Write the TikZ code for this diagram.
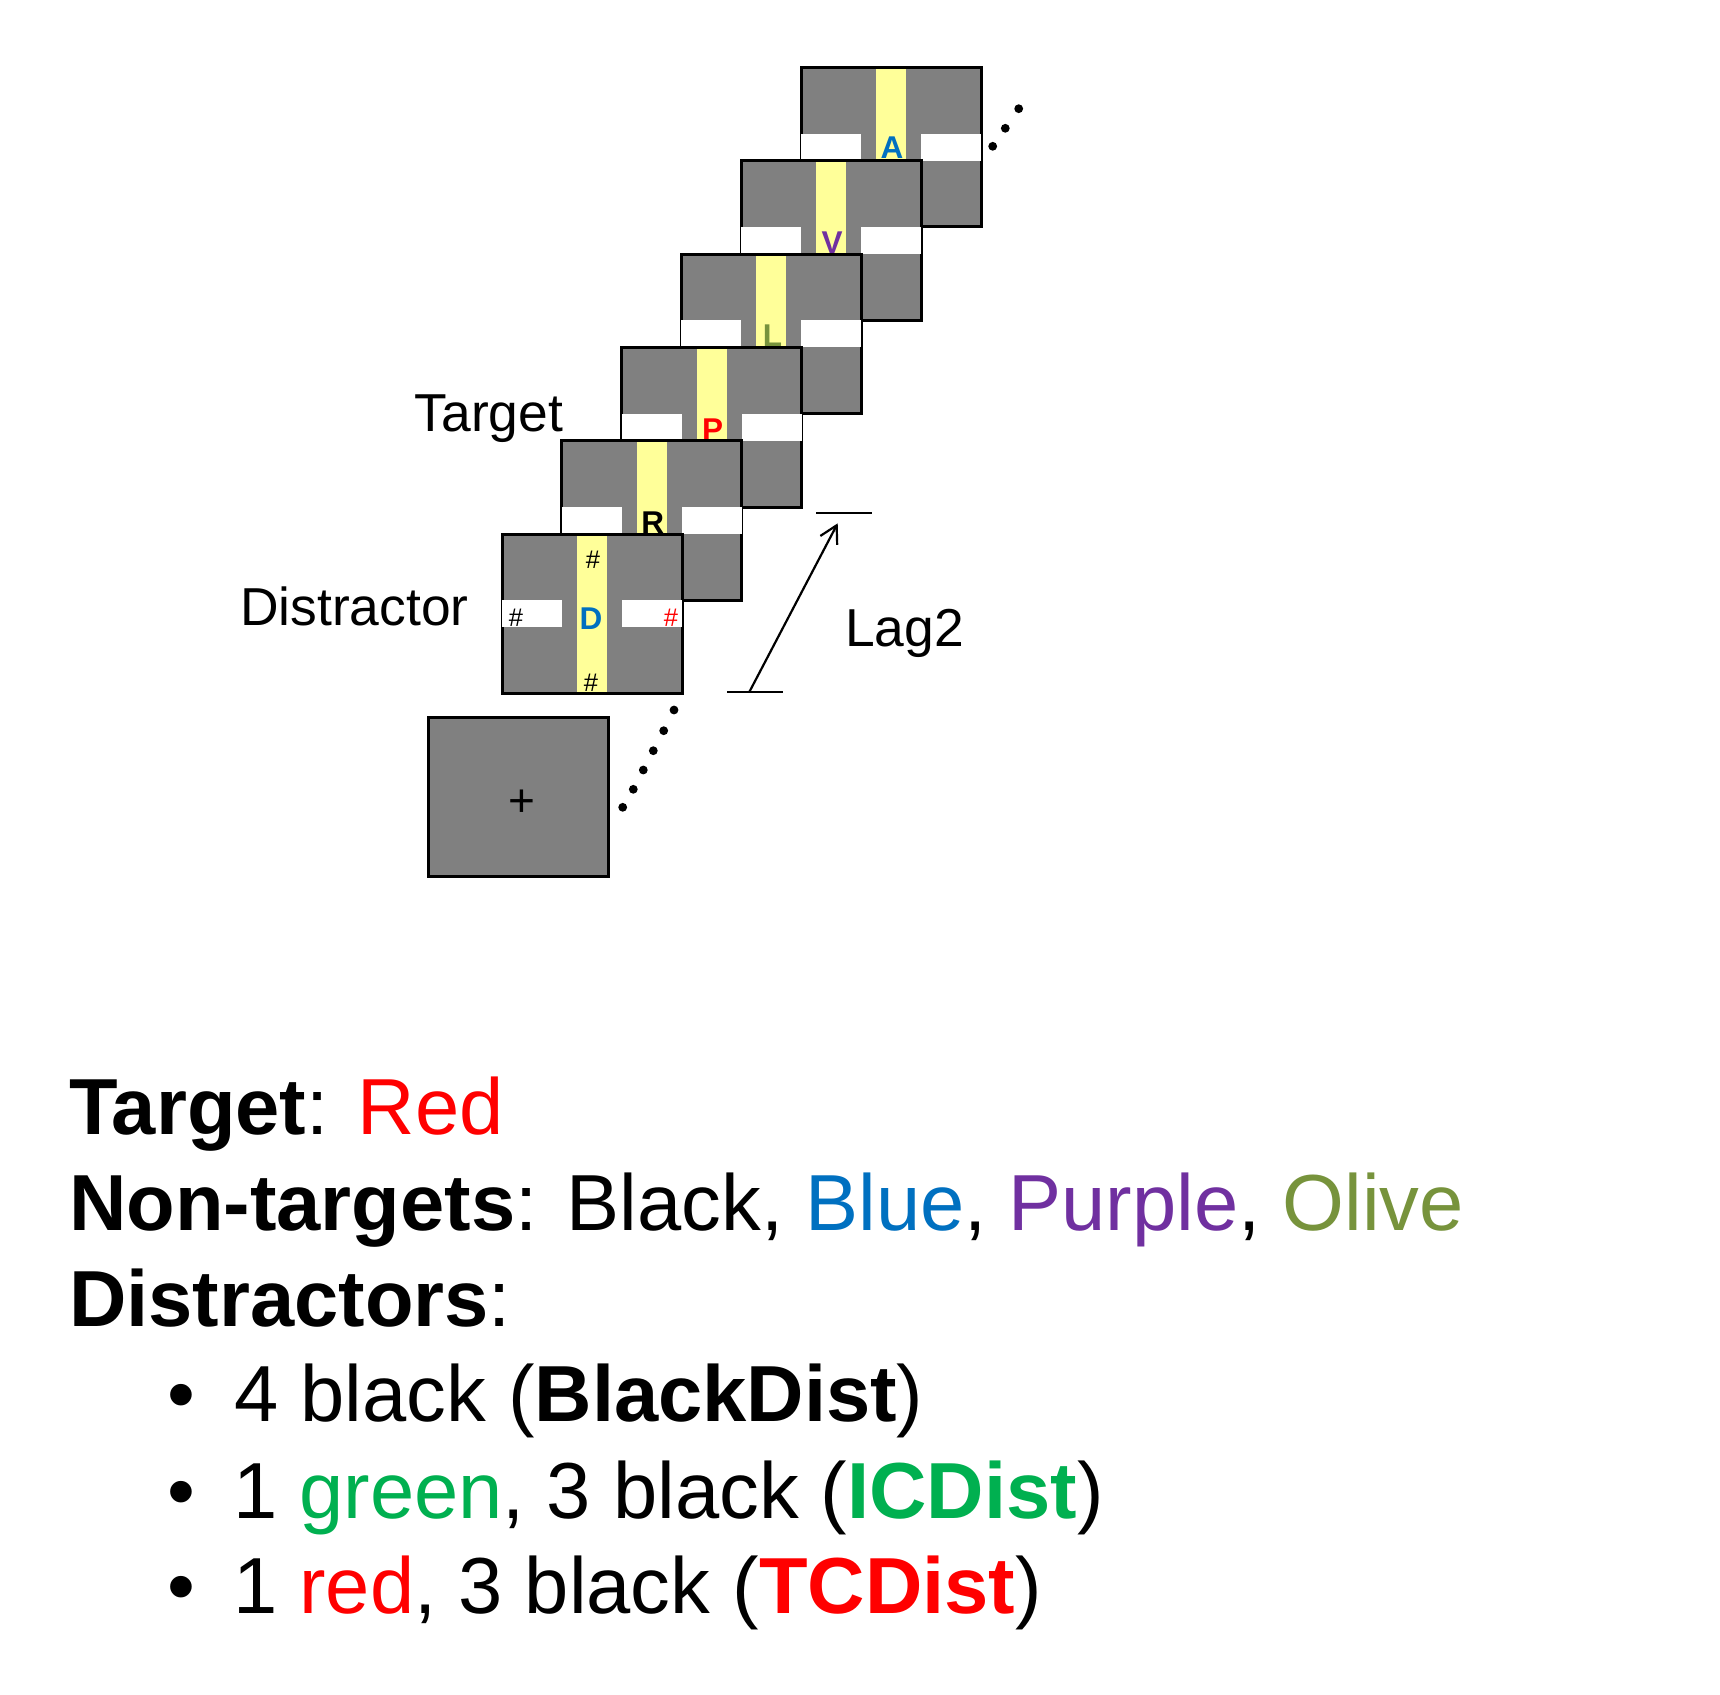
\documentclass[tikz,border=0pt]{standalone}
\usepackage{fontspec}
\setmainfont{Liberation Sans}
\usetikzlibrary{arrows.meta}
\definecolor{fgray}{RGB}{128,128,128}
\definecolor{fyel}{RGB}{255,255,153}
\definecolor{cblue}{RGB}{0,112,192}
\definecolor{cpurp}{RGB}{112,48,160}
\definecolor{colive}{RGB}{119,147,60}
\definecolor{cgreen}{RGB}{0,176,80}
\definecolor{cred}{RGB}{255,0,0}
\newcommand\bigtxt{\fontsize{79.5bp}{96bp}\selectfont}
\newcommand\labtxt{\fontsize{53.4bp}{60bp}\selectfont}
\newcommand\lettxt{\bfseries\fontsize{31.5bp}{36bp}\selectfont}
\newcommand\hashtxt{\fontsize{25.5bp}{30bp}\selectfont}
\tikzset{
  frameline/.style={draw=black, line width=3bp},
  letter/.style={anchor=base, inner sep=0pt, font=\lettxt},
  hashmark/.style={anchor=base, inner sep=0pt, font=\hashtxt},
  label/.style={anchor=base west, inner sep=0pt, font=\labtxt},
  bigline/.style={anchor=base west, inner sep=0pt, font=\bigtxt},
  bulletmark/.style={anchor=base, inner sep=0pt, font=\bigtxt},
  dotmark/.style={fill=black},
  lagbar/.style={draw=black, line width=2bp},
  lagarrow/.style={draw=black, line width=2.2bp, -{Straight Barb[length=17bp,width=19bp,line width=2.2bp]}},
}
\begin{document}
\begin{tikzpicture}[x=1bp,y=-1bp]
\useasboundingbox[fill=white] (0,0) rectangle (1720,1695);

% stimulus frames, back to front
\foreach \i/\L/\c/\b in {0/A/cblue/11,1/V/cpurp/13,2/L/colive/13,3/P/cred/13,4/R/black/13}{
  \pgfmathsetmacro\xl{801-59.8*\i}
  \pgfmathsetmacro\yt{67.3+93.4*\i}
  \fill[fgray] (\xl,\yt) rectangle ++(180,159.5);
  \fill[fyel] (\xl+75,\yt) rectangle ++(30,159.5);
  \draw[frameline] (\xl,\yt) rectangle ++(180,159.5);
  \fill[white] (\xl,\yt+66.25) rectangle ++(60,27);
  \fill[white] (\xl+120,\yt+66.25) rectangle ++(60,27);
  \node[letter, text=\c] (let\i) at (\xl+91,\yt+79.75+\b) {\L};
}

% distractor frame
\fill[fgray] (502,534) rectangle ++(180,159.5);
\fill[fyel] (577,534) rectangle ++(30,159.5);
\draw[frameline] (502,534) rectangle ++(180,159.5);
\fill[white] (502,600.25) rectangle ++(60,27);
\fill[white] (622,600.25) rectangle ++(60,27);
\node[letter, text=cblue] (letD) at (591,629.5) {D};
\node[hashmark] (hT) at (593,568) {\#};
\node[hashmark] (hB) at (591,691) {\#};
\node[hashmark] (hL) at (516,626) {\#};
\node[hashmark, text=cred] (hR) at (671,626) {\#};

% fixation frame
\fill[fgray] (428,717) rectangle (608,876);
\draw[frameline] (428,717) rectangle (608,876);
\node[anchor=base, inner sep=0pt, font=\fontsize{46bp}{50bp}\selectfont] (fix) at (522,816) {+};

% dots
\foreach \x/\y in {622.7/807.3,633.3/789.3,643.3/770,653.3/750.7,663.7/730.7,674/710}
  \fill[dotmark] (\x,\y) circle (4.4bp);
\foreach \x/\y in {992.7/146.3,1005.3/128.3,1018.7/108.7}
  \fill[dotmark] (\x,\y) circle (4.4bp);

% lag indicator
\coordinate (lb1) at (727.3,692);
\coordinate (lb2) at (782.7,692);
\coordinate (lt1) at (816,513.3);
\coordinate (lt2) at (871.7,513.3);
\coordinate (lagb) at (749.3,692);
\coordinate (lagt) at (837.7,523.3);
\draw[lagbar] (lb1) -- (lb2);
\draw[lagbar] (lt1) -- (lt2);
\draw[lagarrow] (lagb) -- (lagt);
\node[label] (lag) at (845,646) {Lag2};

% side labels
\node[label] (tgt) at (414.5,431.7) {Target};
\node[label] (dst) at (240,625) {Distractor};

% legend text
\node[bigline] (l1) at (69,1134.3) {\textbf{Target}: \textcolor{cred}{Red}};
\node[bigline] (l2) at (69,1230) {\textbf{Non-targets}: Black, \textcolor{cblue}{Blue}, \textcolor{cpurp}{Purple}, \textcolor{colive}{Olive}};
\node[bigline] (l3) at (69,1326) {\textbf{Distractors}:};
\node[bulletmark] (b1) at (181,1421.7) {•};
\node[bulletmark] (b2) at (181,1518) {•};
\node[bulletmark] (b3) at (181,1613) {•};
\node[bigline] (l4) at (234,1421.7) {4 black (\textbf{BlackDist})};
\node[bigline] (l5) at (233,1518) {1 \textcolor{cgreen}{green}, 3 black (\textcolor{cgreen}{\textbf{ICDist}})};
\node[bigline] (l6) at (233,1613) {1 \textcolor{cred}{red}, 3 black (\textcolor{cred}{\textbf{TCDist}})};
\end{tikzpicture}
\end{document}
